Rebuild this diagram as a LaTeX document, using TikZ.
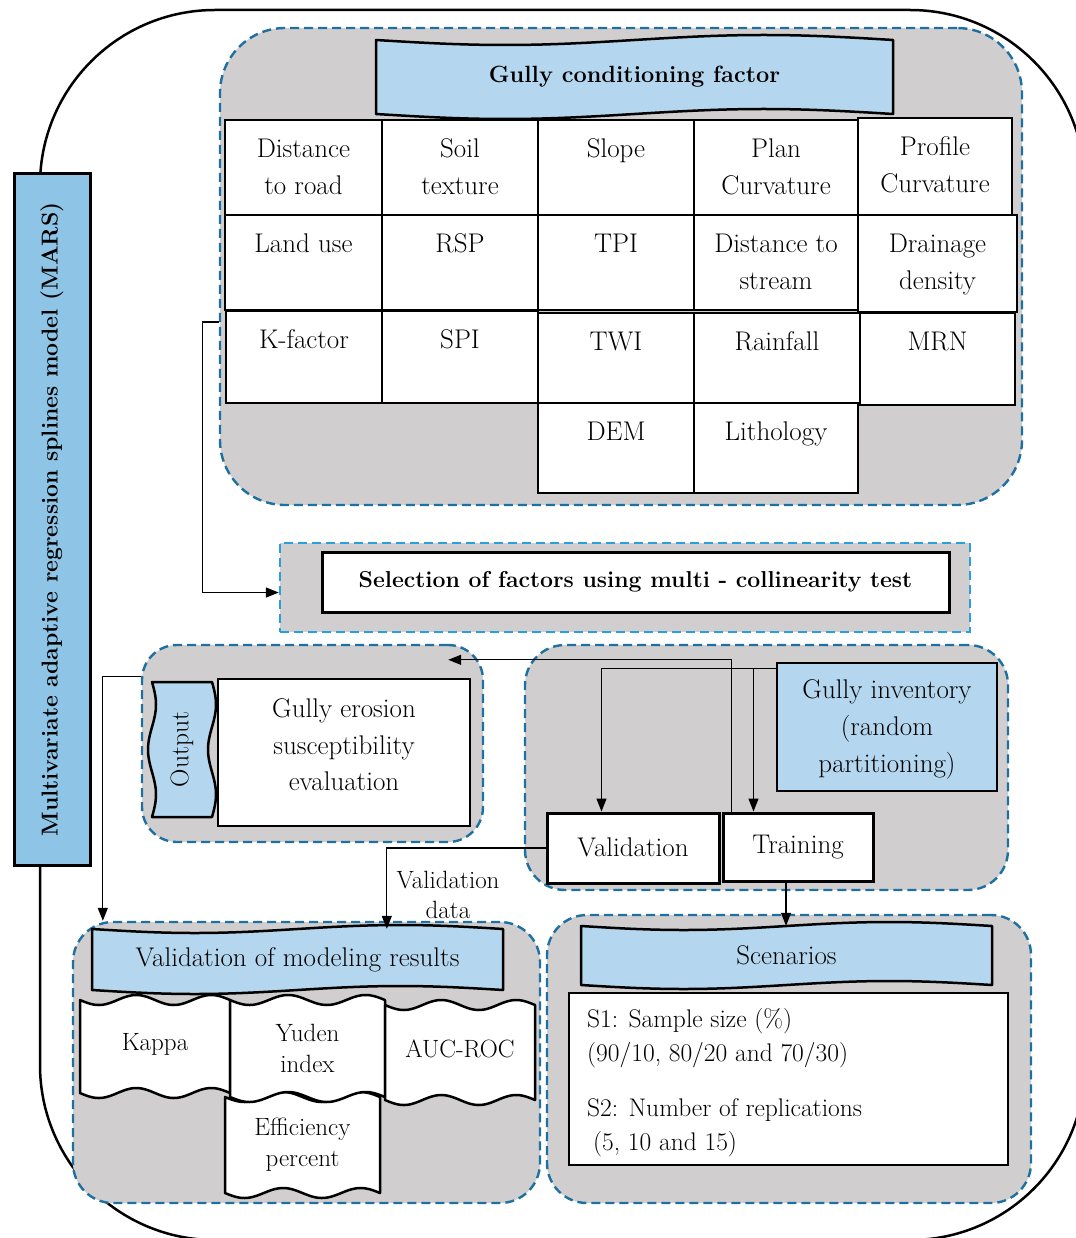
\documentclass[tikz,border=0pt]{standalone}
\usetikzlibrary{arrows.meta}
\definecolor{grayfill}{RGB}{208,206,206}
\definecolor{dblue}{RGB}{30,112,160}
\definecolor{sblue}{RGB}{40,160,220}
\definecolor{lblue}{RGB}{180,215,239}
\definecolor{mblue}{RGB}{142,196,230}
% rectangle node from corner (x1,y1) to (x2,y2)
\newcommand\rnode[7]{\node[#1, minimum width={(#5-#3)*1pt}, minimum height={(#6-#4)*1pt}] (#2) at ({(#3+#5)/2},{(#4+#6)/2}) {#7};}
% table cell with top text
\newcommand\tcell[6]{%
  \rnode{cellbox}{#1}{#2}{#3}{#4}{#5}{}
  \node[ctext, anchor=north] (#1t) at ({(#2+#4)/2},{#3+11}) {\strut #6};}
% wavy banner: style, name, x1, y1, x2, y2, amplitude, periods, text
\newcommand\hwave[9]{%
  \path[#1] (#3,#4) -- plot[domain=#3:#5, samples=80, smooth] (\x,{#4+#7*sin(#8*360*((\x-#3)/(#5-#3)))})
     -- (#5,#6) -- plot[domain=#5:#3, samples=80, smooth] (\x,{#6+#7*sin(#8*360*((\x-#3)/(#5-#3)))}) -- cycle;
  \rnode{inner sep=0pt, align=center}{#2}{#3}{#4}{#5}{#6}{#9}}
\begin{document}
\begin{tikzpicture}[x=1pt,y=-1pt,
  font=\fontsize{27}{37}\selectfont,
  cellbox/.style={draw, line width=2.8pt, fill=white, inner sep=0pt},
  ctext/.style={align=center, inner sep=0pt},
  grp/.style={draw=dblue, line width=2.4pt, dash pattern=on 9pt off 5pt, fill=grayfill, rounded corners=#1, inner sep=0pt},
  grp/.default=40pt,
  banner/.style={draw, line width=2.5pt, fill=lblue, line join=round},
  wcell/.style={draw, line width=2.5pt, fill=white, line join=round},
  conn/.style={line width=1.3pt, -{Triangle[length=13pt,width=10pt]}},
  plainbox/.style={draw, line width=1.5pt, fill=white, inner sep=0pt},
]
\useasboundingbox (0,0) rectangle (1075,1238);
% outer frame
\draw[line width=2.5pt, rounded corners=175pt] (40,10) rectangle (1085,1240);
% MARS box
\rnode{draw, line width=3pt, fill=mblue, inner sep=0pt}{mars}{14}{174}{90}{865}{}
\node[rotate=90, font=\fontsize{23}{26}\selectfont\bfseries] (marst) at (mars.center) {Multivariate adaptive regression splines model (MARS)};

% ---------- Gully conditioning factors ----------
\rnode{grp=65pt}{gcfg}{220}{28}{1022}{505}{}
\hwave{banner}{gcf}{376}{40}{893}{114}{5}{1}{\fontsize{23.5}{26}\selectfont\bfseries Gully conditioning factor}
\tcell{c11}{225}{120}{382}{215}{Distance\\to road}
\tcell{c12}{382}{120}{538}{215}{Soil\\texture}
\tcell{c13}{538}{120}{694}{215}{Slope}
\tcell{c14}{694}{120}{858}{215}{Plan\\Curvature}
\tcell{c15}{858}{118}{1012}{215}{Profile\\Curvature}
\tcell{c21}{225}{215}{382}{310}{Land use}
\tcell{c22}{382}{215}{538}{310}{RSP}
\tcell{c23}{538}{215}{694}{310}{TPI}
\tcell{c24}{694}{215}{858}{310}{Distance to\\stream}
\tcell{c25}{858}{215}{1017}{312}{Drainage\\density}
\tcell{c31}{226}{311}{382}{403}{K-factor}
\tcell{c32}{382}{311}{538}{403}{SPI}
\tcell{c33}{538}{313}{694}{403}{TWI}
\tcell{c34}{694}{313}{860}{403}{Rainfall}
\tcell{c35}{860}{313}{1015}{405}{MRN}
\tcell{c43}{538}{403}{694}{493}{DEM}
\tcell{c44}{694}{403}{858}{493}{Lithology}

% ---------- Selection ----------
\rnode{draw=sblue, line width=2.4pt, dash pattern=on 9pt off 5pt, fill=grayfill, inner sep=0pt}{selg}{280}{543}{970}{632}{}
\rnode{draw, line width=3pt, fill=white, inner sep=0pt, font=\fontsize{23}{26}\selectfont\bfseries}{sel}{322}{552}{949}{612}{Selection of factors using multi - collinearity test}

% ---------- Output ----------
\rnode{grp=35pt}{outg}{142}{645}{483}{842}{}
\path[banner] (152,682) -- plot[domain=682:817, samples=60, smooth] ({152+4*sin(540*((\x-682)/135))},\x)
   -- (212,817) -- plot[domain=817:682, samples=60, smooth] ({212+4*sin(540*((\x-682)/135))},\x) -- cycle;
\rnode{inner sep=0pt}{outb}{152}{682}{212}{817}{}
\node[rotate=90, font=\fontsize{25.5}{28}\selectfont] (outbt) at (outb.center) {Output};
\rnode{plainbox}{ges}{218}{679}{470}{826}{}
\node[ctext, font=\fontsize{27}{36.5}\selectfont] (gest) at (344,745) {Gully erosion\\susceptibility\\evaluation};

% ---------- Inventory ----------
\rnode{grp=40pt}{invg}{525}{645}{1008}{890}{}
\rnode{draw, line width=1.5pt, fill=lblue, inner sep=0pt}{inv}{777}{663}{997}{791}{}
\node[ctext] (invt) at (887,729) {Gully inventory\\(random\\partitioning)};
\rnode{cellbox, line width=3pt}{valid}{547}{813}{719}{883}{\raisebox{2pt}{Validation}}
\rnode{cellbox, line width=3pt}{train}{723}{813}{873}{881}{Training}

% ---------- Validation of modeling results ----------
\rnode{grp=40pt}{vgrp}{73}{922}{540}{1203}{}
\hwave{banner}{vmr}{92}{929}{503}{990}{4}{1}{\fontsize{27}{30}\selectfont Validation of modeling results}
\begin{scope}[font=\fontsize{25}{31}\selectfont]
\hwave{wcell}{kap}{80}{1000}{230}{1093}{5}{2}{\raisebox{9pt}{Kappa}}
\hwave{wcell}{eff}{225}{1097}{380}{1193}{5}{2}{Efficiency\\percent}
\hwave{wcell}{yud}{230}{1000}{385}{1097}{5}{2}{Yuden\\index}
\hwave{wcell}{auc}{385}{1005}{535}{1100}{5}{2}{\raisebox{8pt}{AUC-ROC}}
\end{scope}
\node[ctext, font=\fontsize{25}{30}\selectfont] (vdata) at (448,895) {Validation\\data};

% ---------- Scenarios ----------
\rnode{grp=40pt}{scg}{547}{915}{1031}{1203}{}
\hwave{banner}{scen}{581}{926}{992}{985}{4}{1}{\fontsize{27}{30}\selectfont Scenarios}
\rnode{plainbox}{scbox}{569}{993}{1008}{1165}{}
\node[anchor=north west, align=left, inner sep=0pt, font=\fontsize{25.5}{34}\selectfont] (sctext) at (587,1008)
  {S1: Sample size (\%)\\(90/10, 80/20 and 70/30)\\[21pt]S2: Number of replications\\\hspace*{6pt}(5, 10 and 15)};

% ---------- connectors ----------
\draw[conn] ([yshift=-55.5pt]gcfg.west) -- ++(-16,0) |- ([yshift=-5pt]selg.west);
\draw[conn] ([yshift=-6pt]inv.north west) -| ([xshift=56pt]valid.north west);
\draw[conn] ([yshift=-6pt]inv.north west) -| ([xshift=32pt]train.north west);
\draw[conn] ([xshift=10pt]train.north west) |- ([xshift=-36pt,yshift=-16pt]outg.north east);
\draw[conn] ([yshift=-33pt]outg.north west) -| ([xshift=31pt]vgrp.north west);
\draw[conn] (valid.west) -| ([xshift=295pt]vmr.north west);
\path ([xshift=-12pt]train.south) coordinate (tsx);
\draw[conn] (tsx) -- (tsx |- scen.north);
\end{tikzpicture}
\end{document}
